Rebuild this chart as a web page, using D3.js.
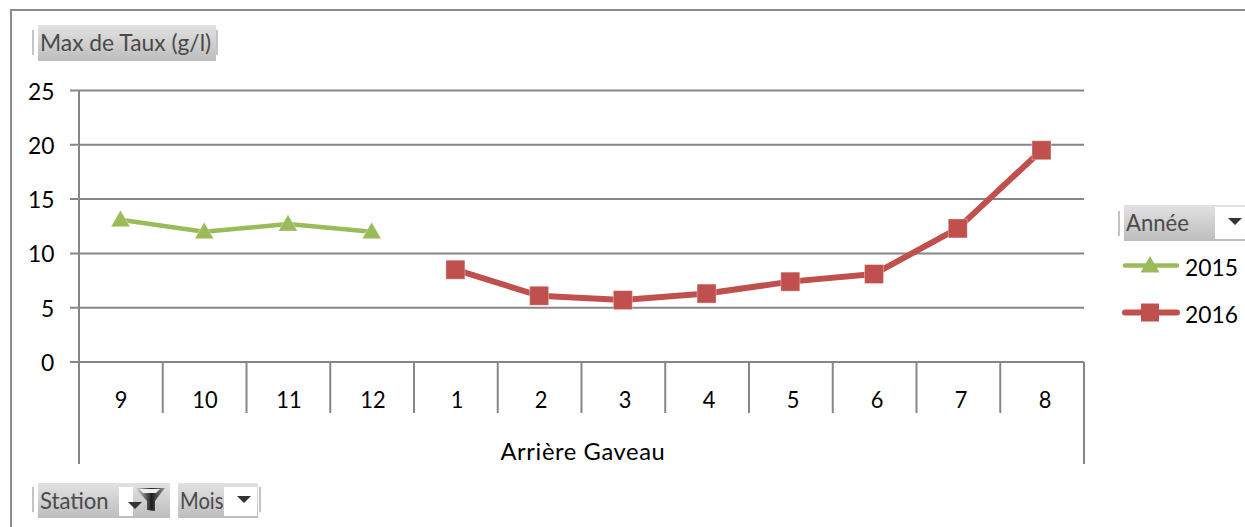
<!DOCTYPE html>
<html><head><meta charset="utf-8">
<script src="https://cdn.jsdelivr.net/npm/d3@7"></script>
<style>html,body{margin:0;padding:0;background:#fff;overflow:hidden}svg{display:block}text{font-family:Lato,"Open Sans",sans-serif}</style>
</head><body><svg id="c" width="1245" height="527"></svg>
<script>
const months=["9","10","11","12","1","2","3","4","5","6","7","8"];
const series2015=[13.1,12.0,12.7,12.0,null,null,null,null,null,null,null,null];
const series2016=[null,null,null,null,8.5,6.1,5.7,6.3,7.4,8.1,12.3,19.5];
const yTicks=[0,5,10,15,20,25];
const stationLabel="Arrière Gaveau";
const yTitle="Max de Taux (g/l)";
const legendTitle="Année";
const legendNames=["2015","2016"];
const filterNames=["Station","Mois"];
const GREEN="#9bbb59",RED="#c0504d",AXIS="#868686",BTN="#4a4a4a";

const svg=d3.select("#c");
const defs=svg.append("defs");
const g=defs.append("linearGradient").attr("id","btn").attr("x1",0).attr("x2",0).attr("y1",0).attr("y2",1);
g.append("stop").attr("offset",0).attr("stop-color","#e2e2e2");
g.append("stop").attr("offset",1).attr("stop-color","#bdbdbd");
const fg=defs.append("linearGradient").attr("id","fun").attr("x1",0).attr("x2",1).attr("y1",0).attr("y2",0);
fg.append("stop").attr("offset",0).attr("stop-color","#e8e8e8");
fg.append("stop").attr("offset",0.55).attr("stop-color","#1e1e1e");
fg.append("stop").attr("offset",1).attr("stop-color","#9a9a9a");

const x=d3.scaleBand().domain(d3.range(months.length)).range([79,1084]);
const px=d3.scalePoint().domain(d3.range(months.length)).range([120.5,1041.5]);
const lx=d3.scalePoint().domain(d3.range(months.length)).range([121,1045]);
const y=d3.scaleLinear().domain([0,25]).range([362,90.5]);

function squeeze(sel,k){
 sel.each(function(){
  const len=this.getComputedTextLength();
  d3.select(this).attr("textLength",len*k).attr("lengthAdjust","spacingAndGlyphs");
 });
 return sel;
}

svg.append("path").attr("d","M11,527V10H1245").attr("fill","none").attr("stroke","#8c8c8c").attr("stroke-width",2);

svg.append("g").selectAll("line").data(yTicks).join("line")
 .attr("x1",70).attr("x2",1084).attr("y1",d=>y(d)).attr("y2",d=>y(d))
 .attr("stroke",AXIS).attr("stroke-width",2);
svg.append("line").attr("x1",79).attr("x2",79).attr("y1",y(25)).attr("y2",464).attr("stroke",AXIS).attr("stroke-width",2);
svg.append("line").attr("x1",1084).attr("x2",1084).attr("y1",y(0)).attr("y2",464).attr("stroke",AXIS).attr("stroke-width",2);
svg.append("g").selectAll("line").data(d3.range(1,months.length)).join("line")
 .attr("x1",i=>x(i)).attr("x2",i=>x(i)).attr("y1",y(0)).attr("y2",413)
 .attr("stroke",AXIS).attr("stroke-width",2);

squeeze(svg.append("g").selectAll("text").data(yTicks).join("text")
 .attr("x",d=>d<10?41:28).attr("y",d=>y(d)+9).attr("font-size",24).attr("fill","#000").text(d=>d),0.95);
squeeze(svg.append("g").selectAll("text").data(months).join("text")
 .attr("x",(d,i)=>lx(i)).attr("y",408).attr("text-anchor","middle").attr("font-size",23).attr("fill","#000").text(d=>d),0.95);
squeeze(svg.append("text").attr("x",583).attr("y",460).attr("text-anchor","middle").attr("font-size",23).attr("letter-spacing",0.6).attr("fill","#000").text(stationLabel),1.03);

function draw(vals,color,width,kind){
 const pts=vals.map((v,i)=>[i,v]).filter(d=>d[1]!=null);
 const line=d3.line().x(d=>px(d[0])).y(d=>y(d[1]));
 svg.append("path").attr("d",line(pts)).attr("fill","none").attr("stroke",color).attr("stroke-width",width).attr("stroke-linejoin","round").attr("stroke-linecap","round");
 svg.append("g").selectAll("path").data(pts).join("path")
  .attr("transform",d=>`translate(${px(d[0])},${y(d[1])})`)
  .attr("d",kind==="tri"?"M0,-9.5L9.5,7H-9.5Z":"M-9.5,-9.5H9.5V9.5H-9.5Z")
  .attr("fill",color).attr("stroke","#fff").attr("stroke-opacity",0.35).attr("stroke-width",1);
}
draw(series2015,GREEN,4.5,"tri");
draw(series2016,RED,6,"sq");

function button(bx,by,w,h,label,fs,k){
 svg.append("rect").attr("x",bx).attr("y",by).attr("width",w).attr("height",h).attr("fill","url(#btn)");
 squeeze(svg.append("text").attr("x",bx+2).attr("y",by+h/2+8).attr("font-size",fs).attr("fill",BTN).text(label),k);
}
function arrow(ax,ay){
 svg.append("path").attr("d",`M${ax-7},${ay-3}H${ax+7}L${ax},${ay+4}Z`).attr("fill","#333");
}
function tick(tx,ty,h){svg.append("rect").attr("x",tx).attr("y",ty).attr("width",2).attr("height",h).attr("fill","#c4c4c4");}

tick(32,30,25);
button(38,25,178,36,yTitle,24,0.95);
tick(216,30,25);

tick(1118,211,25);
button(1124,205,121,36,legendTitle,24,0.92);
svg.append("rect").attr("x",1215).attr("y",207).attr("width",30).attr("height",32).attr("fill","#fff");
arrow(1235,221);
const legendY=[265.5,312.5];
const legendKinds=[[GREEN,4.5,"M0,-9.5L9.5,7H-9.5Z"],[RED,6,"M-9,-9H9V9H-9Z"]];
const lg=svg.append("g").selectAll("g").data(legendNames).join("g").attr("transform",(d,i)=>`translate(0,${legendY[i]})`);
lg.append("line").attr("x1",1125).attr("x2",1177).attr("stroke",(d,i)=>legendKinds[i][0]).attr("stroke-width",(d,i)=>legendKinds[i][1]).attr("stroke-linecap","round");
lg.append("path").attr("transform","translate(1150,0)").attr("d",(d,i)=>legendKinds[i][2]).attr("fill",(d,i)=>legendKinds[i][0]);
squeeze(lg.append("text").attr("x",1185).attr("y",10).attr("font-size",24).attr("fill","#000").text(d=>d),0.95);

tick(32,487,25);
button(38,483,132,35,filterNames[0],24,0.92);
svg.append("rect").attr("x",119).attr("y",487).attr("width",14).attr("height",29).attr("fill","#fff");
arrow(135,505);
svg.append("path").attr("d","M135,488H165L155,501V511L147,510V501Z").attr("fill","url(#fun)");
svg.append("path").attr("d","M139,489H160L156,493H143Z").attr("fill","#ededed");
button(178,483,80,35,filterNames[1],24,0.84);
svg.append("rect").attr("x",224).attr("y",487).attr("width",33).attr("height",29).attr("fill","#fff");
arrow(244,499);
tick(259,487,25);
</script></body></html>
